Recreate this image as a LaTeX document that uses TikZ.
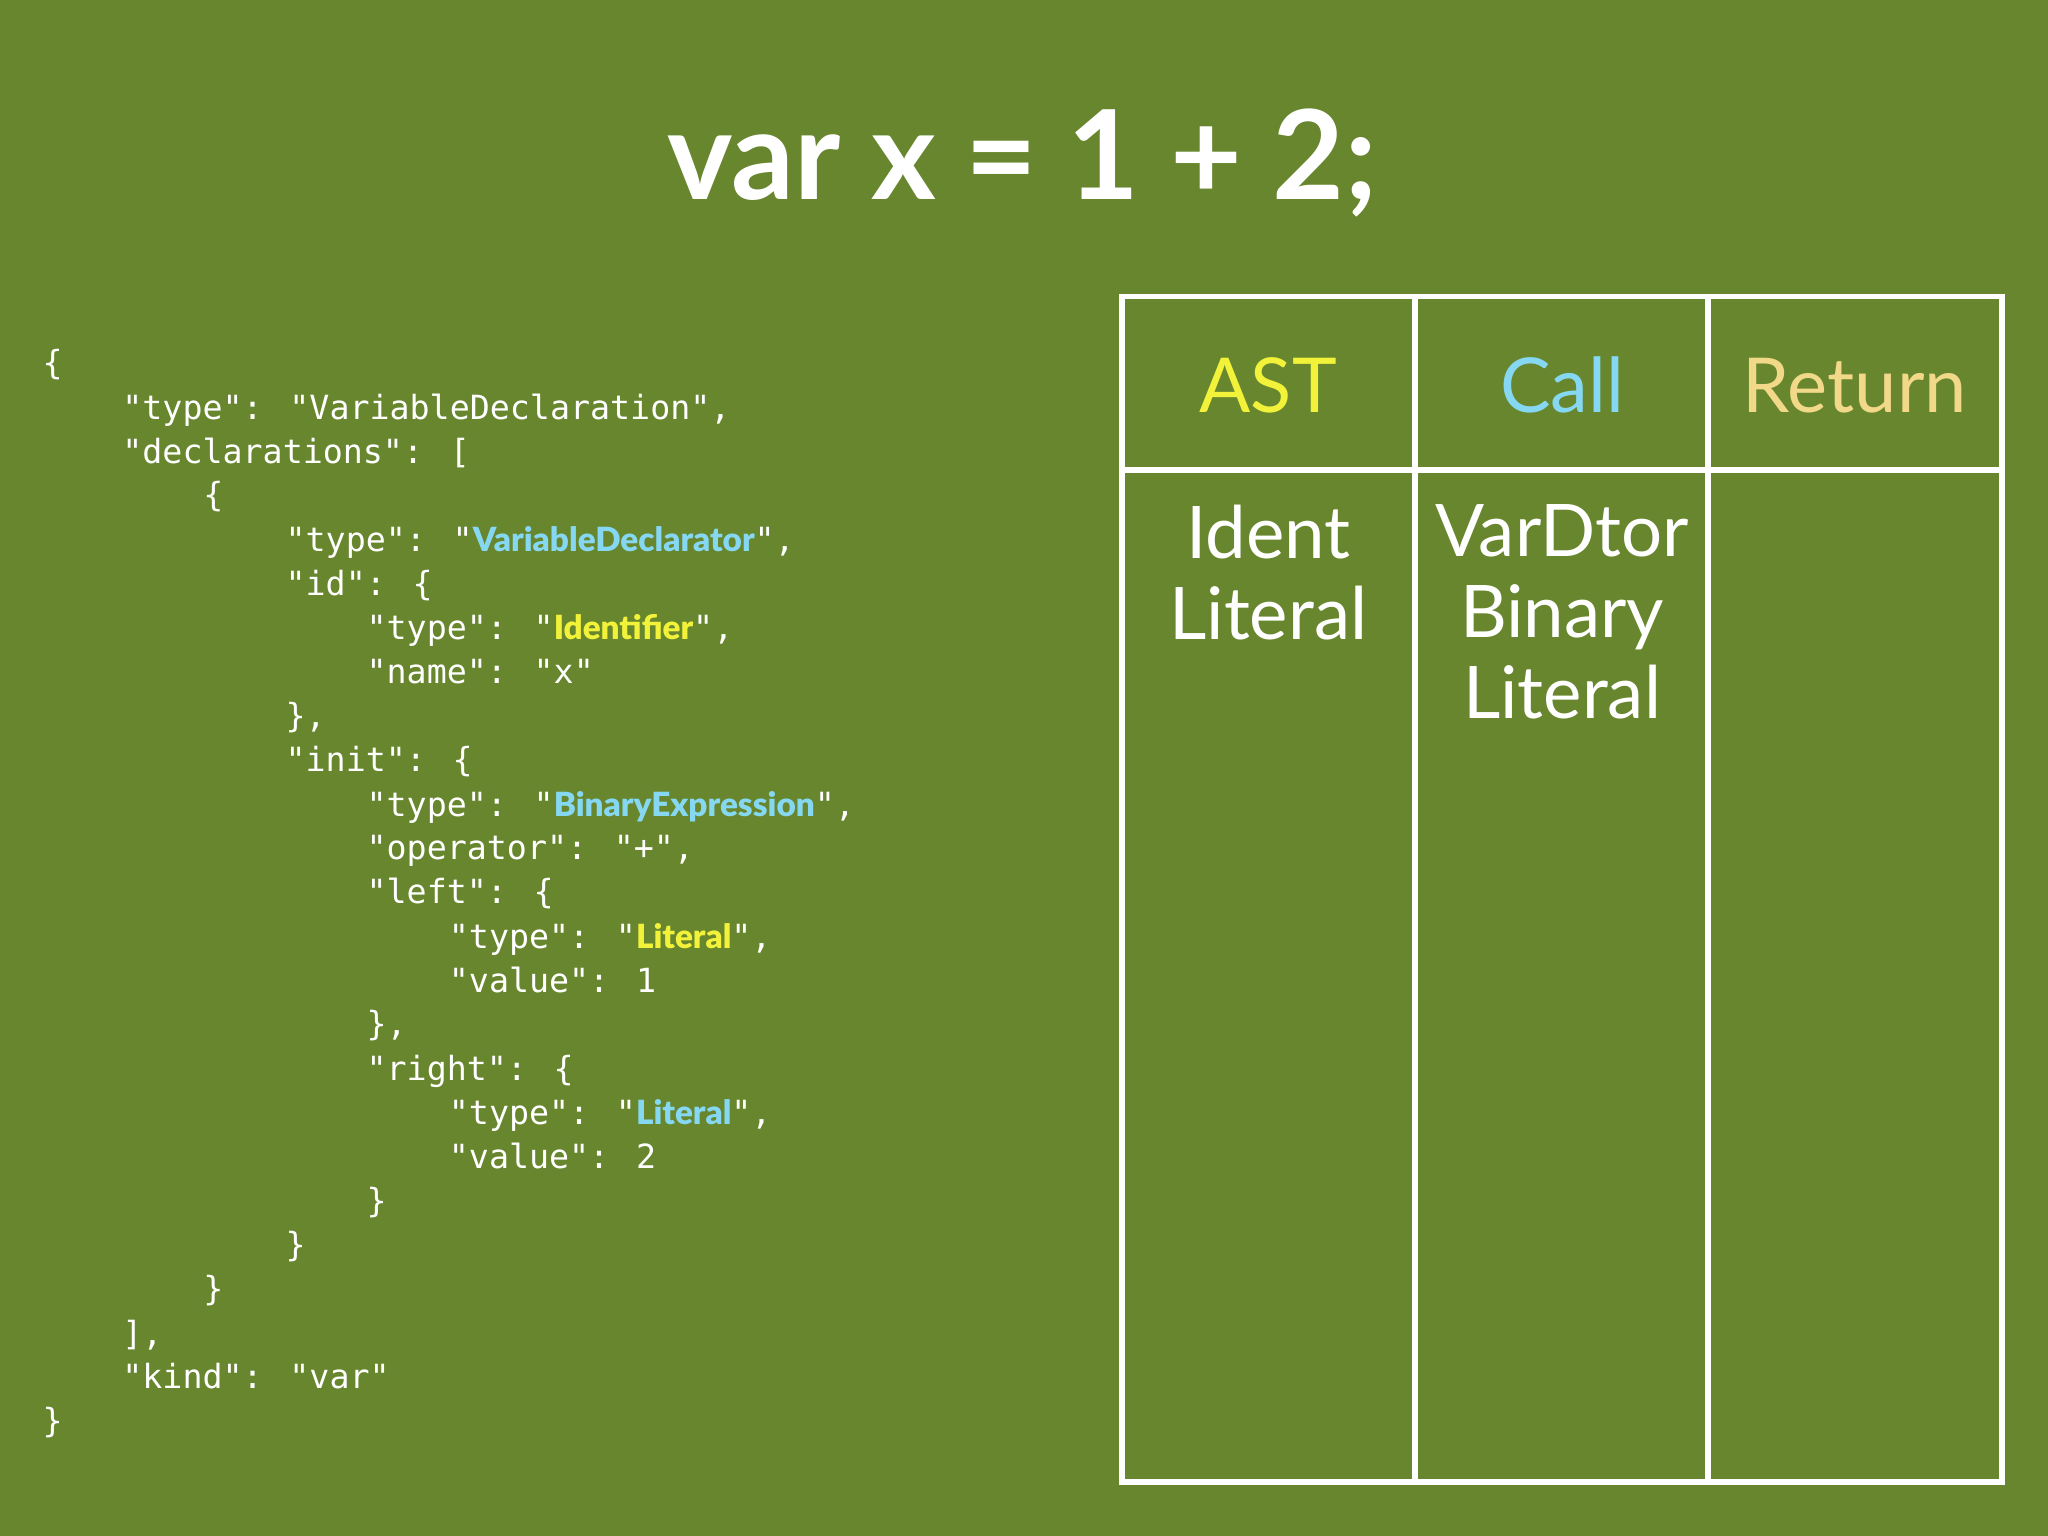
\documentclass[tikz,border=0pt]{standalone}
\usepackage{fontspec}
\setmainfont{Lato}
\newfontfamily\codefont{DejaVu Sans Mono}
\newfontfamily\hlfont{Lato Black}
\definecolor{slidegreen}{HTML}{67862D}
\definecolor{astyellow}{HTML}{F2F23A}
\definecolor{callcyan}{HTML}{86D8F2}
\definecolor{retorange}{HTML}{F2D98A}
\newcommand{\hlY}[1]{{\hlfont\color{astyellow}#1}}
\newcommand{\hlC}[1]{{\hlfont\color{callcyan}#1}}
\begin{document}
\begin{tikzpicture}[x=0.01cm,y=-0.01cm,
  codeline/.style={anchor=base west,inner sep=0pt,text=white,font=\codefont\fontsize{7.25pt}{9pt}\selectfont},
  hdr/.style={font=\fontsize{16.5pt}{20pt}\selectfont},
  cell/.style={text=white,align=center,font=\fontsize{15.8pt}{17.6pt}\selectfont}]
\fill[slidegreen] (0,0) rectangle (1568,1176);
\useasboundingbox (0,0) rectangle (1568,1176);
% title
\node[text=white,font=\bfseries\fontsize{27pt}{30pt}\selectfont] (title) at (783,125) {var x = 1 + 2;};
% JSON
\node[codeline] (code1) at (32,287) {\{};
\node[codeline] (code2) at (93,321) {"type": "VariableDeclaration",};
\node[codeline] (code3) at (93,355) {"declarations": [};
\node[codeline] (code4) at (155,388) {\{};
\node[codeline] (code5) at (218,422) {"type": "\hlC{VariableDeclarator}",};
\node[codeline] (code6) at (218,456) {"id": \{};
\node[codeline] (code7) at (280,490) {"type": "\hlY{Identifier}",};
\node[codeline] (code8) at (280,523) {"name": "x"};
\node[codeline] (code9) at (218,557) {\},};
\node[codeline] (code10) at (218,591) {"init": \{};
\node[codeline] (code11) at (280,625) {"type": "\hlC{BinaryExpression}",};
\node[codeline] (code12) at (280,658) {"operator": "+",};
\node[codeline] (code13) at (280,692) {"left": \{};
\node[codeline] (code14) at (343,726) {"type": "\hlY{Literal}",};
\node[codeline] (code15) at (343,760) {"value": 1};
\node[codeline] (code16) at (280,793) {\},};
\node[codeline] (code17) at (280,827) {"right": \{};
\node[codeline] (code18) at (343,861) {"type": "\hlC{Literal}",};
\node[codeline] (code19) at (343,895) {"value": 2};
\node[codeline] (code20) at (280,928) {\}};
\node[codeline] (code21) at (218,962) {\}};
\node[codeline] (code22) at (155,996) {\}};
\node[codeline] (code23) at (93,1030) {],};
\node[codeline] (code24) at (93,1063) {"kind": "var"};
\node[codeline] (code25) at (32,1097) {\}};
% table
\draw[white,line width=1.3pt] (859,227) rectangle (1533,1135);
\draw[white,line width=1.3pt] (859,360) -- (1533,360);
\draw[white,line width=1.3pt] (1083,227) -- (1083,1135);
\draw[white,line width=1.3pt] (1308,227) -- (1308,1135);
\node[hdr,text=astyellow] (ast) at (971,295) {AST};
\node[hdr,text=callcyan] (call) at (1196,295) {Call};
\node[hdr,text=retorange] (ret) at (1420,295) {Return};
\node[cell,anchor=north] (astcol) at (971,374) {Ident\\Literal};
\node[cell,anchor=north] (callcol) at (1196,374) {VarDtor\\Binary\\Literal};
\end{tikzpicture}
\end{document}
